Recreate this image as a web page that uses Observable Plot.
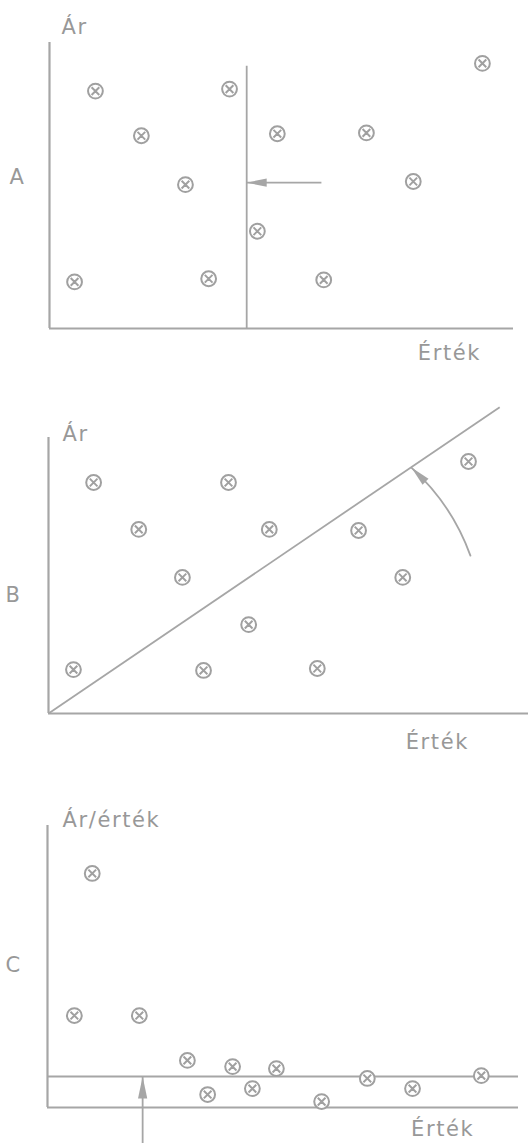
<!DOCTYPE html>
<html><head><meta charset="utf-8">
<script src="https://cdn.jsdelivr.net/npm/d3@7"></script>
<script src="https://cdn.jsdelivr.net/npm/@observablehq/plot@0.6"></script>
<style>
body{margin:0;background:#fff;}
#chart svg{display:block;}
svg text{letter-spacing:1.6px;}
</style></head><body><div id="chart"></div>
<script>
// ---------- data ----------
const xTitle = "Érték";
const yTitleAB = "Ár";
const yTitleC = "Ár/érték";
const panelNames = ["A", "B", "C"];

// Panel A: price vs value, vertical threshold line
const aX = [9.9, 38.8, 93.3, 19.8, 49.1, 68.3, 29.3, 78.4, 44.8, 5.4, 34.3, 59.1];
const aY = [83.0, 83.7, 92.7, 67.4, 68.1, 68.4, 50.3, 51.4, 34.0, 16.3, 17.4, 17.0];
const aThresholdX = 42.5, aThresholdTop = 91.7;
const aArrow = {x1: 58.6, y1: 51.0, x2: 42.5, y2: 51.0};

// Panel B: price vs value, diagonal line through origin
const bX = [9.4, 37.5, 87.5, 18.8, 46.0, 64.6, 27.9, 73.8, 41.7, 5.2, 32.3, 56.0];
const bY = [83.7, 83.7, 91.3, 66.7, 66.7, 66.3, 49.3, 49.3, 32.2, 15.9, 15.6, 16.3];
const bDiagonal = {x1: 0, y1: 0, x2: 94.0, y2: 111.0};
const bArc = {x1: 87.9, y1: 57.2, x2: 75.6, y2: 89.1};

// Panel C: price/value ratio vs value, horizontal threshold
const cX = [9.5, 5.7, 19.5, 29.7, 39.3, 48.6, 34.0, 43.5, 58.2, 67.9, 77.5, 92.1];
const cY = [83.0, 32.6, 32.6, 16.7, 14.5, 13.8, 4.6, 6.7, 2.1, 10.3, 6.7, 11.3];
const cThresholdY = 11.0;
const cArrow = {x1: 20.2, y1: -12.8, x2: 20.2, y2: 11.0};

// ---------- styles ----------
const LINE = "#a6a6a6", TEXT = "#989898", DOT = "#a0a0a0";
const FONT = "DejaVu Sans";
const FS = 21;

const otimes = {
  draw(ctx, size) {
    const r = Math.sqrt(size / Math.PI);
    ctx.moveTo(r, 0);
    ctx.arc(0, 0, r, 0, 2 * Math.PI);
    const d = r * 0.52;
    ctx.moveTo(-d, -d); ctx.lineTo(d, d);
    ctx.moveTo(-d, d); ctx.lineTo(d, -d);
  }
};
const head = {
  draw(ctx, size) {
    const r = Math.sqrt(size / Math.PI);
    ctx.moveTo(0, 0);
    ctx.lineTo(-0.42 * r, 2 * r);
    ctx.lineTo(0.42 * r, 2 * r);
    ctx.closePath();
  }
};

const pts = (xs, ys) => xs.map((x, i) => ({x, y: ys[i]}));
const axes = () => [
  Plot.ruleX([{x: 0, y1: 0, y2: 100}], {x: "x", y1: "y1", y2: "y2", stroke: LINE, strokeWidth: 2.2}),
  Plot.ruleY([{y: 0, x1: 0, x2: 100}], {y: "y", x1: "x1", x2: "x2", stroke: LINE, strokeWidth: 2.2})
];
const dots = (xs, ys) => Plot.dot(pts(xs, ys), {x: "x", y: "y", symbol: otimes, r: 7.4, stroke: DOT, strokeWidth: 2, fill: "white"});
const label = (d, anchor, line) => Plot.text([d], {x: "x", y: "y", text: "t", textAnchor: anchor, lineAnchor: line, fontSize: FS, fontFamily: FONT, fill: TEXT});

const common = {width: 528, x: {domain: [0, 100], axis: null}, y: {domain: [0, 100], axis: null}, style: {fontFamily: FONT, background: "white"}};

const plotA = Plot.plot({
  ...common, height: 380, marginLeft: 49, marginRight: 15, marginTop: 42, marginBottom: 52,
  marks: [
    ...axes(),
    Plot.ruleX([{x: aThresholdX, y1: 0, y2: aThresholdTop}], {x: "x", y1: "y1", y2: "y2", stroke: LINE, strokeWidth: 1.8}),
    Plot.link([aArrow], {x1: "x1", y1: "y1", x2: "x2", y2: "y2", stroke: LINE, strokeWidth: 1.8}),
    Plot.dot([aArrow], {x: "x2", y: "y2", symbol: head, r: 10, rotate: -90, fill: LINE, stroke: "none"}),
    dots(aX, aY),
    label({x: 2.6, y: 103, t: yTitleAB}, "start", "bottom"),
    label({x: -6.9, y: 52.8, t: panelNames[0]}, "middle", "middle"),
    label({x: 86.2, y: -11.1, t: xTitle}, "middle", "bottom")
  ]
});

const plotB = Plot.plot({
  ...common, height: 380, marginLeft: 48, marginRight: 0, marginTop: 57, marginBottom: 47,
  marks: [
    ...axes(),
    Plot.link([bDiagonal], {x1: "x1", y1: "y1", x2: "x2", y2: "y2", stroke: LINE, strokeWidth: 1.8}),
    Plot.arrow([bArc], {x1: "x1", y1: "y1", x2: "x2", y2: "y2", bend: -14, headLength: 0, stroke: LINE, strokeWidth: 1.8}),
    Plot.dot([bArc], {x: "x2", y: "y2", symbol: head, r: 10, rotate: -45, fill: LINE, stroke: "none"}),
    dots(bX, bY),
    label({x: 2.9, y: 98.9, t: yTitleAB}, "start", "bottom"),
    label({x: -7.3, y: 42.8, t: panelNames[1]}, "middle", "middle"),
    label({x: 81.0, y: -12.7, t: xTitle}, "middle", "bottom")
  ]
});

const plotC = Plot.plot({
  ...common, height: 383, marginLeft: 47, marginRight: 10, marginTop: 65, marginBottom: 36,
  marks: [
    ...axes(),
    Plot.ruleY([{y: cThresholdY, x1: 0, x2: 100}], {y: "y", x1: "x1", x2: "x2", stroke: LINE, strokeWidth: 1.8}),
    Plot.link([cArrow], {x1: "x1", y1: "y1", x2: "x2", y2: "y2", stroke: LINE, strokeWidth: 1.8}),
    Plot.dot([cArrow], {x: "x2", y: "y2", symbol: head, r: 11, rotate: 0, fill: LINE, stroke: "none"}),
    dots(cX, cY),
    label({x: 3.2, y: 99.3, t: yTitleC}, "start", "bottom"),
    label({x: -7.2, y: 50.4, t: panelNames[2]}, "middle", "middle"),
    label({x: 83.9, y: -10.0, t: xTitle}, "middle", "bottom")
  ]
});

const root = document.getElementById("chart");
root.append(plotA, plotB, plotC);
</script></body></html>
